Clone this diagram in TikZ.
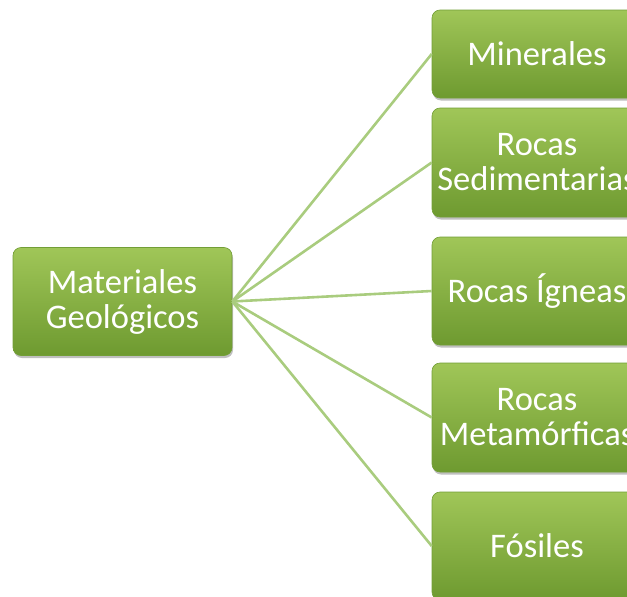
\documentclass[tikz,border=0pt]{standalone}
\usepackage{fontspec}
\setmainfont{Carlito}
\usetikzlibrary{shadows}
\definecolor{gtop}{HTML}{A0C658}
\definecolor{gbot}{HTML}{6E9A30}
\definecolor{gedge}{HTML}{729E36}
\definecolor{gline}{HTML}{A9CC7E}
\tikzset{
  gbox/.style={rectangle, rounded corners=8pt, top color=gtop, bottom color=gbot,
    draw=gedge, line width=0.6pt, text=white, align=center,
    font=\fontsize{34.5}{35}\selectfont, inner sep=0pt,
    drop shadow={shadow xshift=1pt, shadow yshift=-2.5pt, fill=black, opacity=0.25}},
  conn/.style={draw=gline, line width=2.6pt}
}
\begin{document}
\begin{tikzpicture}[x=1pt,y=-1pt]
\useasboundingbox (0,0) rectangle (627,597);
\clip (0,0) rectangle (627,597);
\node[gbox, minimum width=219pt, minimum height=108pt] (c) at (122.5,301.5) {Materiales\\Geológicos};
\node[gbox, minimum width=210pt, minimum height=88pt] (m) at (537,54) {Minerales};
\node[gbox, minimum width=210pt, minimum height=109pt] (s) at (537,162.5) {Rocas\\Sedimentarias};
\node[gbox, minimum width=210pt, minimum height=108pt] (i) at (537,291) {Rocas Ígneas};
\node[gbox, minimum width=210pt, minimum height=109pt] (t) at (537,417.5) {Rocas\\Metamórficas};
\node[gbox, minimum width=210pt, minimum height=108pt] (f) at (537,546) {Fósiles};
\foreach \n in {m,s,i,t,f}{ \draw[conn] (c.east) -- (\n.west); }
\end{tikzpicture}
\end{document}
